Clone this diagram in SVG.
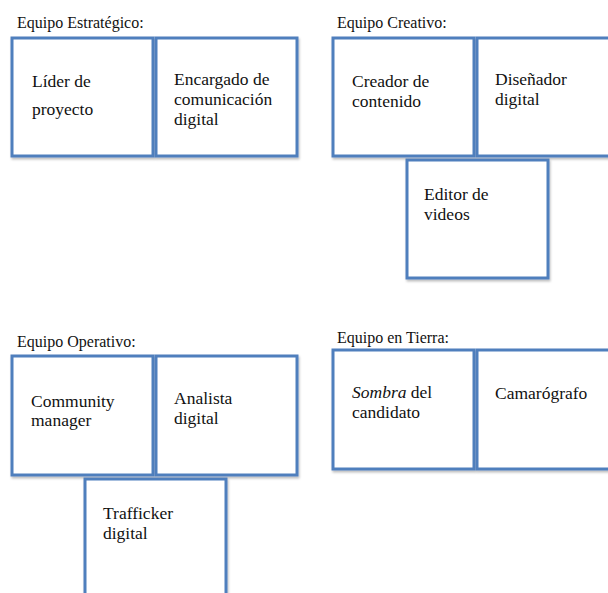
<svg xmlns="http://www.w3.org/2000/svg" width="608" height="593" viewBox="0 0 608 593">
<style>
.box{fill:#ffffff;stroke:#4f7fbd;stroke-width:3}
text{font-family:"Liberation Serif","DejaVu Serif",serif;font-size:16px;fill:#111111}
.t{font-size:17.5px}
</style>
<defs>
<filter id="sh" x="-10%" y="-10%" width="120%" height="120%">
<feDropShadow dx="1" dy="2" stdDeviation="1.2" flood-color="#000000" flood-opacity="0.25"/>
</filter>
</defs>
<rect width="608" height="593" fill="#ffffff"/>
<text x="17" y="28">Equipo Estratégico:</text>
<text x="337" y="28">Equipo Creativo:</text>
<text x="17" y="347">Equipo Operativo:</text>
<text x="337" y="343">Equipo en Tierra:</text>
<g id="lider"><rect class="box" filter="url(#sh)" x="12" y="38" width="141" height="118"/><text class="t" x="32" y="87">Líder de</text><text class="t" x="32" y="115">proyecto</text></g>
<g id="encargado"><rect class="box" filter="url(#sh)" x="156" y="38" width="141" height="118"/><text class="t" x="174" y="85">Encargado de</text><text class="t" x="174" y="105">comunicación</text><text class="t" x="174" y="125">digital</text></g>
<g id="creador"><rect class="box" filter="url(#sh)" x="333" y="38" width="141" height="118"/><text class="t" x="352" y="87">Creador de</text><text class="t" x="352" y="107">contenido</text></g>
<g id="disenador"><rect class="box" filter="url(#sh)" x="477" y="38" width="141" height="118"/><text class="t" x="495" y="85">Diseñador</text><text class="t" x="495" y="105">digital</text></g>
<g id="editor"><rect class="box" filter="url(#sh)" x="407" y="160" width="141" height="118"/><text class="t" x="424" y="200">Editor de</text><text class="t" x="424" y="220">videos</text></g>
<g id="community"><rect class="box" filter="url(#sh)" x="12" y="356" width="141" height="119"/><text class="t" x="31" y="407">Community</text><text class="t" x="31" y="426">manager</text></g>
<g id="analista"><rect class="box" filter="url(#sh)" x="156" y="356" width="141" height="119"/><text class="t" x="174" y="404">Analista</text><text class="t" x="174" y="424">digital</text></g>
<g id="trafficker"><rect class="box" filter="url(#sh)" x="85" y="479" width="141" height="130"/><text class="t" x="103" y="519">Trafficker</text><text class="t" x="103" y="539">digital</text></g>
<g id="sombra"><rect class="box" filter="url(#sh)" x="333" y="350" width="141" height="119"/><text class="t" x="352" y="398"><tspan font-style="italic">Sombra</tspan> del</text><text class="t" x="352" y="418">candidato</text></g>
<g id="camarografo"><rect class="box" filter="url(#sh)" x="477" y="350" width="141" height="119"/><text class="t" x="495" y="399">Camarógrafo</text></g>
<g id="connectors"></g>
</svg>
